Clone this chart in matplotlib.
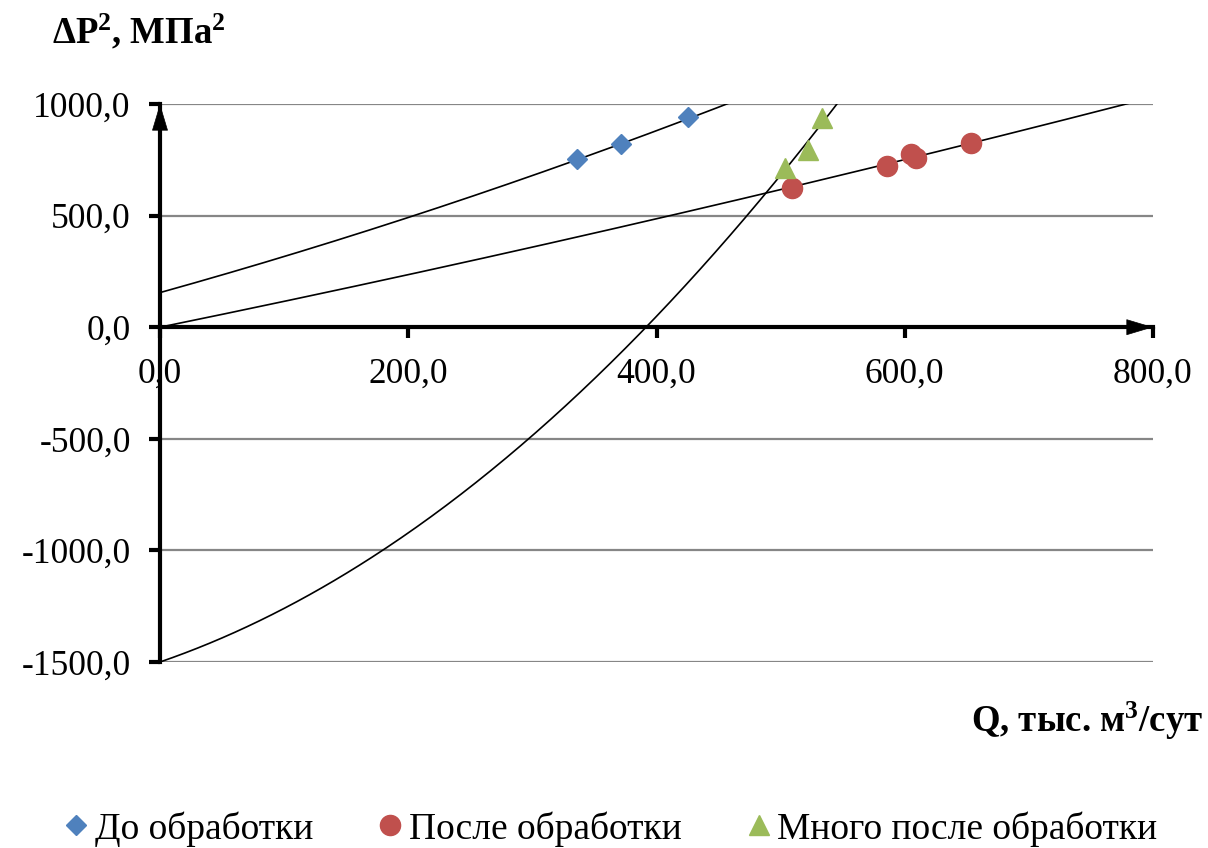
import numpy as np
import matplotlib.pyplot as plt

plt.rcParams['font.family'] = ['Liberation Serif', 'DejaVu Serif']
plt.rcParams['mathtext.fontset'] = 'custom'
plt.rcParams['mathtext.rm'] = 'Liberation Serif'
plt.rcParams['mathtext.bf'] = 'Liberation Serif:bold'
plt.rcParams['mathtext.it'] = 'Liberation Serif:italic'

# Точки замеров, Q (тыс. м3/сут) и ΔP² (МПа²)
q_before = [335.8, 371.4, 425.2]
dp_before = [755.0, 820.0, 940.0]

q_after = [508.8, 586.0, 605.0, 609.0, 653.6]
dp_after = [624.0, 720.0, 776.0, 758.0, 824.0]

q_late = [503.9, 522.3, 533.0]
dp_late = [713.0, 796.0, 936.0]

# Коэффициенты линий тренда: c0 + c1*Q + c2*Q^2
trend_before = [155.0, 1.552, 0.000654]
trend_after = [0.0, 1.14, 0.000186]
trend_late = [-1500.0, 1.912, 0.0049]

series_names = ['До обработки', 'После обработки', 'Много после обработки']
colors = ['#4F81BD', '#C0504D', '#9BBB59']

x_ticks = [0, 200, 400, 600, 800]
y_ticks = [-1500, -1000, -500, 0, 500, 1000]

fig = plt.figure(figsize=(12.08, 8.48), dpi=100)
ax = fig.add_axes([160 / 1208, 1 - 662 / 848, 993 / 1208, 558 / 848])

ax.set_xlim(0, 800)
ax.set_ylim(-1500, 1000)

# горизонтальная сетка
for yv in y_ticks:
    ax.axhline(yv, color='#868686', lw=1.6, zorder=1)

# линии тренда
qq = np.linspace(0, 800, 400)
for c in (trend_before, trend_after, trend_late):
    ax.plot(qq, c[0] + c[1] * qq + c[2] * qq ** 2, color='black', lw=1.2, zorder=3)

ax.plot(q_before, dp_before, 'D', color=colors[0], ms=10, ls='none',
        label=series_names[0], zorder=4)
ax.plot(q_after, dp_after, 'o', color=colors[1], ms=14.5, ls='none',
        label=series_names[1], zorder=4)
ax.plot(q_late, dp_late, '^', color=colors[2], ms=15, ls='none',
        label=series_names[2], zorder=4)

# оси через ноль
for s in ('top', 'right'):
    ax.spines[s].set_visible(False)
ax.spines['left'].set_position(('data', 0))
ax.spines['bottom'].set_position(('data', 0))
ax.spines['left'].set_linewidth(3)
ax.spines['bottom'].set_linewidth(3)
ax.spines['left'].set_zorder(5)
ax.spines['bottom'].set_zorder(5)

ax.set_xticks(x_ticks)
ax.set_yticks(y_ticks)
ax.set_xticklabels([f'{v:.1f}'.replace('.', ',') for v in x_ticks])
ax.set_yticklabels([f'{v:.1f}'.replace('.', ',') for v in y_ticks])
ax.tick_params(axis='both', direction='out', length=8, width=3, labelsize=25.5)
ax.tick_params(axis='x', pad=14)
ax.tick_params(axis='y', pad=13)

# стрелки на концах осей (только наконечники)
arrow = dict(arrowstyle='-|>,head_length=0.4,head_width=0.12', color='black',
             lw=0.5, mutation_scale=45, shrinkA=0, shrinkB=0)
ax.annotate('', xy=(800, 0), xytext=(778, 0), arrowprops=arrow,
            annotation_clip=False, zorder=6)
ax.annotate('', xy=(0, 1000), xytext=(0, 900), arrowprops=arrow,
            annotation_clip=False, zorder=6)

fig.text(52 / 1208, 1 - 43 / 848, r'ΔP$^{\mathbf{2}}$, МПа$^{\mathbf{2}}$', fontsize=26.5,
         fontweight='bold', va='baseline')
fig.text(1203 / 1208, 1 - 732 / 848, r'Q, тыс. м$^{\mathbf{3}}$/сут', fontsize=26.5,
         fontweight='bold', ha='right', va='baseline')

ax.legend(loc='lower center', bbox_to_anchor=(0.503, -0.016), bbox_transform=fig.transFigure,
          ncol=3, frameon=False, fontsize=27, handletextpad=0.0,
          columnspacing=1.55, borderaxespad=0.0, handlelength=1.0,
          markerscale=1.0)

fig.savefig('out.png', dpi=100)
